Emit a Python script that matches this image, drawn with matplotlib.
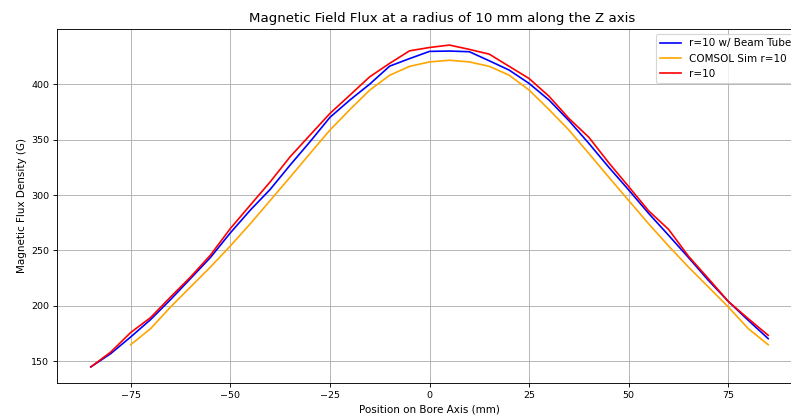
import numpy as np
import matplotlib
matplotlib.use("Agg")
import matplotlib.pyplot as plt

# positions along the bore axis (mm)
z_pos = np.arange(-85, 90, 5)

# measured flux at r=10 mm with the beam tube in place (G)
b_tube = [145, 157, 172, 187.7, 205.7, 224.6, 243.6, 265.8, 286.3, 305, 326.9, 348,
          370, 385.6, 400, 416.2, 423, 429.5, 429.8, 429.2, 421, 412.6, 400.6, 385.6,
          367, 346.5, 325, 304.5, 283.4, 263.7, 243.6, 223, 204, 187, 170.5]

# measured flux at r=10 mm, no tube
b_open = [145, 158.4, 176, 189.5, 208, 226, 245.7, 269.7, 290.8, 311.8, 334.4, 354,
          373.5, 390, 406.6, 418.7, 430, 433, 435.2, 431.3, 427, 416, 405, 389,
          369, 352, 329, 307.5, 285.7, 269, 244.8, 224.6, 204, 188.5, 173.5]

# COMSOL simulation, r=10 mm
z_sim = np.arange(-75, 90, 5)
b_sim = [165, 179.5, 199, 217, 235, 254, 274, 295, 316, 337.4, 358.5, 377, 394.6,
         408, 416, 420, 421.5, 420, 416, 408, 394.6, 377, 358.5, 337.4, 316,
         295, 274, 254, 235, 217, 199, 179.5, 165]

DPI = 80
fig = plt.figure(figsize=(791 / DPI, 418 / DPI), dpi=DPI)
ax = fig.add_axes([0.072, 0.0837, 0.942, 0.847])

ax.plot(z_pos, b_tube, color='blue', label='r=10 w/ Beam Tube')
ax.plot(z_sim, b_sim, color='orange', label='COMSOL Sim r=10')
ax.plot(z_pos, b_open, color='red', label='r=10')

ax.set_title('Magnetic Field Flux at a radius of 10 mm along the Z axis', x=0.517)
ax.set_xlabel('Position on Bore Axis (mm)', fontsize=9.3)
ax.set_ylabel('Magnetic Flux Density (G)', fontsize=9.3)
ax.tick_params(labelsize=8.5)
ax.grid(True)
ax.legend(loc='upper left', bbox_to_anchor=(0.804, 0.985), borderaxespad=0,
          fontsize=9.3)

fig.savefig('out.png', dpi=DPI)
